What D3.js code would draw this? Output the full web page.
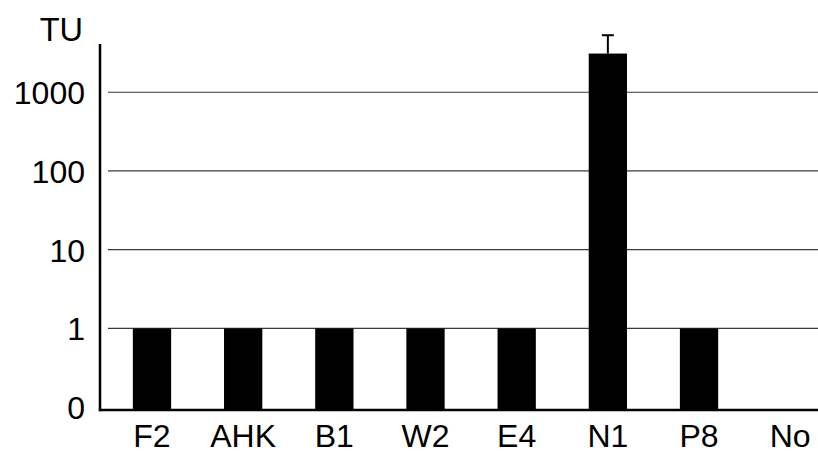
<!DOCTYPE html>
<html>
<head>
<meta charset="utf-8">
<script src="https://cdn.jsdelivr.net/npm/d3@7"></script>
<style>
  html, body { margin: 0; padding: 0; background: #fff; }
  svg { display: block; font-family: Arial, "Liberation Sans", Helvetica, sans-serif; }
</style>
</head>
<body>
<svg id="chart" width="818" height="455"></svg>
<script>
// Strains and their TU values (log scale; "No" has no activity)
const categories = ["F2", "AHK", "B1", "W2", "E4", "N1", "P8", "No"];
const values = [1, 1, 1, 1, 1, 3100, 1, null];
const errors = [null, null, null, null, null, 2200, null, null];

// Tick values on the log axis; the bottom tick stands for zero
const tickValues = [0.1, 1, 10, 100, 1000];
const tickLabels = ["0", "1", "10", "100", "1000"];
const axisTitle = "TU";

const svg = d3.select("#chart");
const W = 818;

const axisX = 100;
const yBottom = 410, yTop = 44;
const floorValue = 0.092;   // where the baseline sits, just under the "0" tick
const ceilValue = 4100;     // top of the drawn axis

const y = d3.scaleLog().domain([floorValue, ceilValue]).range([yBottom, yTop]);
const x = d3.scaleBand()
  .domain(categories)
  .range([106.4, 835.8])
  .paddingInner(0.58)
  .paddingOuter(0.29);

// Horizontal gridlines (all but the zero tick)
svg.append("g")
  .selectAll("line")
  .data(tickValues.filter(v => v >= 1))
  .join("line")
  .attr("x1", 108).attr("x2", W)
  .attr("y1", d => y(d)).attr("y2", d => y(d))
  .attr("stroke", "#3a3a3a")
  .attr("stroke-width", 1.2);

// Bars
svg.append("g")
  .selectAll("rect")
  .data(categories.map((c, i) => ({ c, v: values[i] })).filter(d => d.v != null))
  .join("rect")
  .attr("x", d => x(d.c))
  .attr("width", x.bandwidth())
  .attr("y", d => y(d.v))
  .attr("height", d => yBottom - y(d.v))
  .attr("fill", "#000");

// Error bars (upper whisker only)
const errData = categories.map((c, i) => ({ c, v: values[i], e: errors[i] }))
  .filter(d => d.v != null && d.e != null);
const eg = svg.append("g").attr("stroke", "#000").attr("stroke-width", 2);
errData.forEach(d => {
  const cx = x(d.c) + x.bandwidth() / 2;
  eg.append("line")
    .attr("x1", cx).attr("x2", cx)
    .attr("y1", y(d.v)).attr("y2", y(d.v + d.e));
  eg.append("line")
    .attr("x1", cx - 6).attr("x2", cx + 6)
    .attr("y1", y(d.v + d.e)).attr("y2", y(d.v + d.e));
});

// Y axis line and labels
svg.append("line")
  .attr("x1", axisX).attr("x2", axisX)
  .attr("y1", yTop).attr("y2", yBottom + 1.2)
  .attr("stroke", "#000").attr("stroke-width", 2.5);

svg.append("g")
  .selectAll("text")
  .data(tickValues)
  .join("text")
  .attr("x", 85)
  .attr("y", d => y(d))
  .attr("dy", "0.37em")
  .attr("text-anchor", "end")
  .attr("font-size", 32)
  .attr("fill", "#000")
  .text((d, i) => tickLabels[i]);

svg.append("text")
  .attr("x", 83).attr("y", 41)
  .attr("text-anchor", "end")
  .attr("font-size", 32.5)
  .attr("fill", "#000")
  .text(axisTitle);

// Baseline
svg.append("line")
  .attr("x1", axisX - 1.2).attr("x2", W)
  .attr("y1", yBottom).attr("y2", yBottom)
  .attr("stroke", "#000").attr("stroke-width", 2.5);

// Category labels
svg.append("g")
  .selectAll("text")
  .data(categories)
  .join("text")
  .attr("x", d => x(d) + x.bandwidth() / 2)
  .attr("y", 447)
  .attr("text-anchor", "middle")
  .attr("font-size", 32)
  .attr("fill", "#000")
  .text(d => d);
</script>
</body>
</html>
